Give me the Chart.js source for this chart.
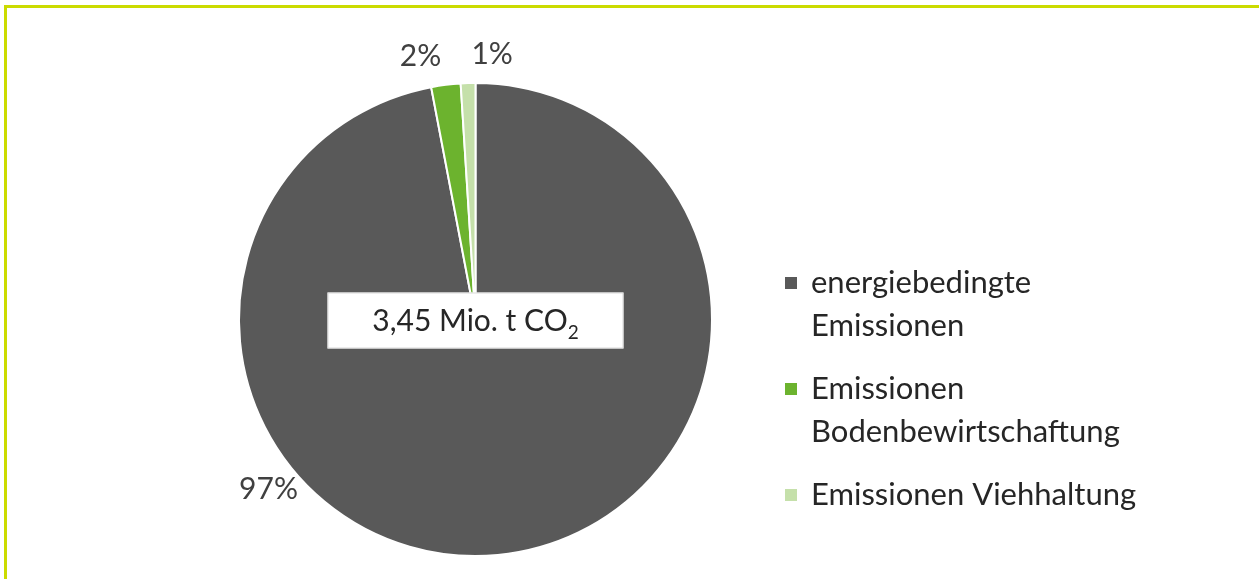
<!DOCTYPE html>
<html>
<head>
<meta charset="utf-8">
<script src="https://cdn.jsdelivr.net/npm/chart.js@4"></script>
<style>
    body { margin: 0; background: #fff; }
    #wrap { position: relative; width: 1259px; height: 579px; }
    #frame {
        position: absolute; left: 4px; top: 5px; right: 0; bottom: 0;
        border-left: 3px solid #cbdb00; border-top: 3px solid #cbdb00;
        pointer-events: none;
    }
</style>
</head>
<body>
<div id="wrap">
    <canvas id="chart" width="1259" height="579"></canvas>
    <div id="frame"></div>
</div>
<script>
// Daten aus der Grafik
var categories = [
    ['energiebedingte', 'Emissionen'],
    ['Emissionen', 'Bodenbewirtschaftung'],
    ['Emissionen Viehhaltung']
];
var shares = [97, 2, 1];
var shareLabels = ['97%', '2%', '1%'];
var totalLabel = '3,45 Mio. t CO';
var totalSub = '2';
var colors = ['#595959', '#6cb32e', '#c5e0aa'];

var FONT = 'Lato, "Open Sans", sans-serif';

// Prozentwerte ausserhalb der Segmente (Winkel im Uhrzeigersinn ab oben)
var labelPlugin = {
    id: 'shareLabels',
    afterDatasetsDraw: function (chart, args, opts) {
        var ctx = chart.ctx;
        var arcs = chart.getDatasetMeta(0).data;
        ctx.save();
        ctx.font = '30px ' + FONT;
        ctx.fillStyle = '#404040';
        ctx.textAlign = 'center';
        ctx.textBaseline = 'middle';
        arcs.forEach(function (arc, i) {
            var a = opts.angles[i] * Math.PI / 180;
            var d = arc.outerRadius + opts.offsets[i];
            ctx.fillText(shareLabels[i], arc.x + d * Math.sin(a), arc.y - d * Math.cos(a));
        });

        // Kasten in der Mitte
        var cx = arcs[0].x, cy = arcs[0].y + 1;
        ctx.fillStyle = '#ffffff';
        ctx.fillRect(cx - 148, cy - 28, 296, 56);
        ctx.strokeStyle = '#d9d9d9';
        ctx.lineWidth = 1;
        ctx.strokeRect(cx - 147.5, cy - 27.5, 295, 55);
        ctx.font = '30px ' + FONT;
        var w1 = ctx.measureText(totalLabel).width;
        ctx.font = '19px ' + FONT;
        var w2 = ctx.measureText(totalSub).width;
        var x0 = cx - (w1 + w2) / 2;
        ctx.textAlign = 'left';
        ctx.fillStyle = '#262626';
        ctx.font = '30px ' + FONT;
        ctx.fillText(totalLabel, x0, cy + 1);
        ctx.font = '19px ' + FONT;
        ctx.fillText(totalSub, x0 + w1, cy + 12);
        ctx.restore();
    }
};

// Legende rechts, mehrzeilig
var legendPlugin = {
    id: 'sideLegend',
    afterDraw: function (chart, args, opts) {
        var ctx = chart.ctx;
        ctx.save();
        ctx.font = '31px ' + FONT;
        ctx.textBaseline = 'middle';
        ctx.textAlign = 'left';
        var y = opts.top;
        categories.forEach(function (lines, i) {
            ctx.fillStyle = colors[i];
            ctx.fillRect(opts.left, y - 6, 12, 12);
            ctx.fillStyle = '#262626';
            lines.forEach(function (line, j) {
                ctx.fillText(line, opts.left + 26, y + j * opts.lineHeight);
            });
            y += (lines.length - 1) * opts.lineHeight + opts.gap;
        });
        ctx.restore();
    }
};

var ctx = document.getElementById('chart').getContext('2d');
var pieChart = new Chart(ctx, {
    type: 'pie',
    data: {
        labels: categories,
        datasets: [{
            data: shares,
            backgroundColor: colors,
            borderColor: '#ffffff',
            borderWidth: 2
        }]
    },
    options: {
        responsive: false,
        animation: false,
        layout: { padding: { left: 238, right: 546, top: 82, bottom: 22 } },
        plugins: {
            legend: { display: false },
            tooltip: { enabled: false },
            shareLabels: { angles: [230.7, 348.2, 3.6], offsets: [31, 32, 29] },
            sideLegend: { left: 785, top: 283, lineHeight: 43, gap: 63 }
        }
    },
    plugins: [labelPlugin, legendPlugin]
});
</script>
</body>
</html>
